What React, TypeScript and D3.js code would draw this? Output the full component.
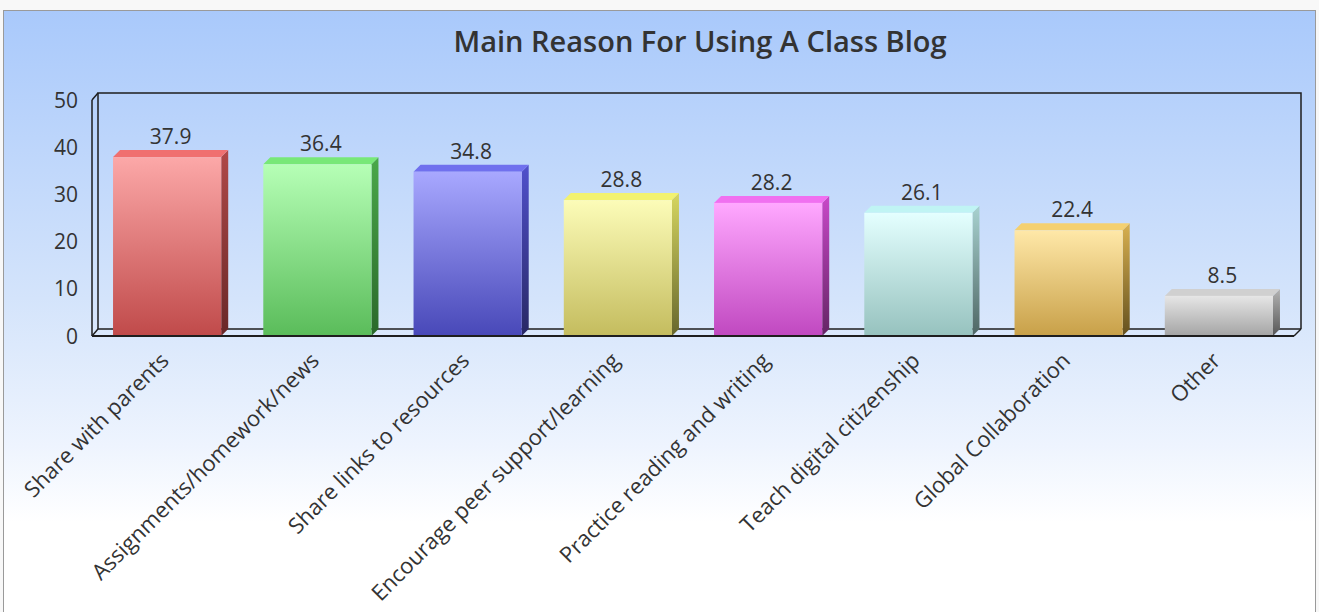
import React from "react";
import * as d3 from "d3";

const categories = [
  "Share with parents",
  "Assignments/homework/news",
  "Share links to resources",
  "Encourage peer support/learning",
  "Practice reading and writing",
  "Teach digital citizenship",
  "Global Collaboration",
  "Other",
];
const values = [37.9, 36.4, 34.8, 28.8, 28.2, 26.1, 22.4, 8.5];
const yTicks = [0, 10, 20, 30, 40, 50];
const title = "Main Reason For Using A Class Blog";

// [top face, front top, front bottom, side top, side bottom]
const palette = [
  ["#f07070", "#fca8a8", "#c04a4a", "#b04848", "#682828"],
  ["#78e878", "#b6ffb6", "#5abc5a", "#4aa84a", "#2a682a"],
  ["#7070ee", "#a8a8ff", "#4848b8", "#5050cc", "#282864"],
  ["#f2f270", "#fcfcb8", "#c4bc5e", "#d6d660", "#66662c"],
  ["#f070f0", "#ffa8ff", "#c048c0", "#c848c8", "#642464"],
  ["#c0f4f4", "#e4ffff", "#96c2be", "#a8d2d0", "#4e6664"],
  ["#f4d070", "#ffe8a8", "#c8a048", "#d8b050", "#64501e"],
  ["#d0d0d0", "#e6e6e6", "#a4a4a4", "#b4b4b4", "#565656"],
];

const W = 1319;
const H = 612;
const left = 92;
const right = 1294;
const y0 = 336;
const y50 = 100;
const DX = 7;
const DY = 7;
const font = "'Open Sans', 'Noto Sans', sans-serif";

export default function App() {
  const x = d3
    .scaleBand<string>()
    .domain(categories)
    .range([left, right])
    .paddingInner(0.28)
    .paddingOuter(0.14);
  const y = d3.scaleLinear().domain([0, 50]).range([y0, y50]);
  const bw = x.bandwidth();
  const line = "#1e1e1e";

  return (
    <svg
      width={W}
      height={H}
      style={{ position: "absolute", left: 0, top: 0 }}
      xmlns="http://www.w3.org/2000/svg"
    >
      <defs>
        <linearGradient id="bg" x1="0" y1="0" x2="0" y2="1">
          <stop offset="0" stopColor="#a9c9fb" />
          <stop offset="0.45" stopColor="#d4e4fb" />
          <stop offset="0.68" stopColor="#eef4fe" />
          <stop offset="0.8" stopColor="#ffffff" />
          <stop offset="1" stopColor="#ffffff" />
        </linearGradient>
        {palette.map((p, i) => (
          <React.Fragment key={i}>
            <linearGradient id={`f${i}`} x1="0" y1="0" x2="0" y2="1">
              <stop offset="0" stopColor={p[1]} />
              <stop offset="1" stopColor={p[2]} />
            </linearGradient>
            <linearGradient id={`s${i}`} x1="0" y1="0" x2="0" y2="1">
              <stop offset="0" stopColor={p[3]} />
              <stop offset="1" stopColor={p[4]} />
            </linearGradient>
          </React.Fragment>
        ))}
      </defs>
      <rect x={0} y={0} width={W} height={H} fill="#f8f8f8" />
      <rect x={3.5} y={10.5} width={1312} height={640} fill="url(#bg)" stroke="#9a9a9a" strokeWidth={1} />

      <text
        x={700}
        y={52}
        textAnchor="middle"
        fontFamily={font}
        fontWeight={600}
        fontSize={29}
        fill="#333"
      >
        {title}
      </text>

      {/* 3D box: back wall and floor */}
      <g fill="none" stroke={line} strokeWidth={1.5}>
        <polyline points={`${left + DX - 1},${y0 - DY} ${left + DX - 1},${y50 - DY} ${right + DX},${y50 - DY} ${right + DX},${y0 - DY}`} />
        <line x1={left + DX - 1} y1={y0 - DY} x2={right + DX} y2={y0 - DY} />
        <line x1={left} y1={y50} x2={left + DX - 1} y2={y50 - DY} />
        <line x1={left} y1={y0} x2={left + DX - 1} y2={y0 - DY} />
        <line x1={right} y1={y0} x2={right + DX} y2={y0 - DY} />
      </g>

      {/* bars */}
      {categories.map((c, i) => {
        const x0 = x(c)!;
        const x1 = x0 + bw;
        const yt = y(values[i]);
        const p = palette[i];
        return (
          <g key={c}>
            <polygon
              points={`${x1},${yt} ${x1 + DX},${yt - DY} ${x1 + DX},${y0 - DY} ${x1},${y0}`}
              fill={`url(#s${i})`}
            />
            <polygon
              points={`${x0},${yt} ${x0 + DX},${yt - DY} ${x1 + DX},${yt - DY} ${x1},${yt}`}
              fill={p[0]}
            />
            <rect x={x0} y={yt} width={bw} height={y0 - yt} fill={`url(#f${i})`} />
            <text
              x={x0 + bw / 2 + DX / 2}
              y={yt - 13}
              textAnchor="middle"
              fontFamily={font}
              fontSize={21}
              fill="#333"
            >
              {values[i]}
            </text>
          </g>
        );
      })}

      {/* front axes */}
      <line x1={left} y1={y50} x2={left} y2={y0} stroke={line} strokeWidth={1.5} />
      <line x1={left} y1={y0} x2={right} y2={y0} stroke={line} strokeWidth={2} />

      {yTicks.map((t) => (
        <text
          key={t}
          x={78}
          y={y(t)}
          dy="0.36em"
          textAnchor="end"
          fontFamily={font}
          fontSize={21}
          fill="#333"
        >
          {t}
        </text>
      ))}

      {categories.map((c) => {
        const cx = x(c)! + bw / 2 + 3;
        const cy = 362;
        return (
          <text
            key={c}
            x={cx}
            y={cy}
            transform={`rotate(-45 ${cx} ${cy})`}
            textAnchor="end"
            fontFamily={font}
            fontSize={22}
            fill="#333"
          >
            {c}
          </text>
        );
      })}
    </svg>
  );
}
